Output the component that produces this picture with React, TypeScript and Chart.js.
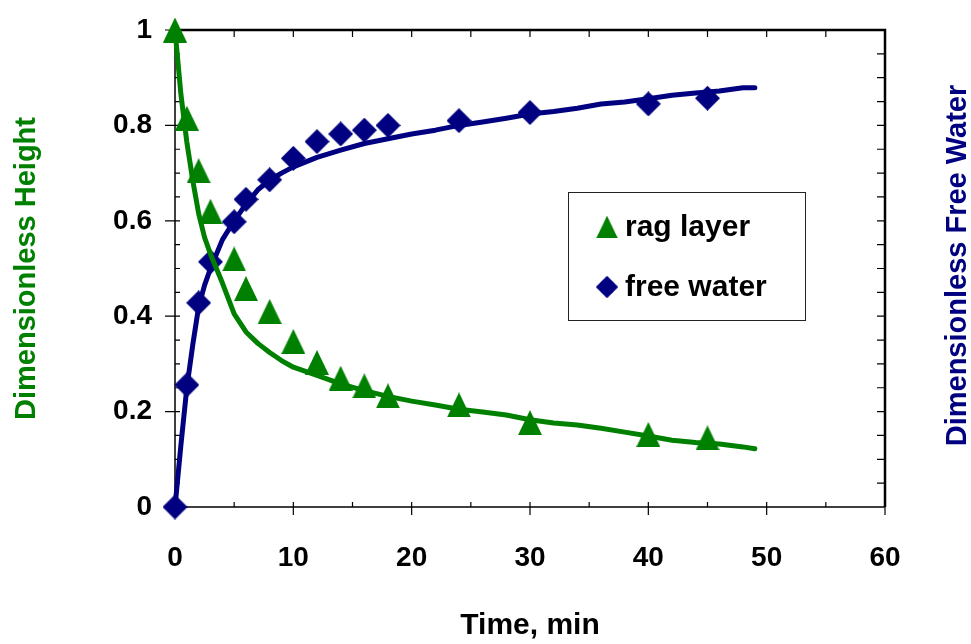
import React, { useEffect, useRef } from "react";
import { Chart, registerables } from "chart.js";

Chart.register(...registerables);

// ---- data ----
const ragTimes = [0, 1, 2, 3, 5, 6, 8, 10, 12, 14, 16, 18, 24, 30, 40, 45];
const ragLayer = [1.0, 0.815, 0.705, 0.62, 0.52, 0.458, 0.41, 0.347, 0.303, 0.27, 0.254, 0.233, 0.214, 0.177, 0.152, 0.145];

const waterTimes = [0, 1, 2, 3, 5, 6, 8, 10, 12, 14, 16, 18, 24, 30, 40, 45];
const freeWater = [0, 0.256, 0.428, 0.514, 0.598, 0.645, 0.686, 0.731, 0.766, 0.782, 0.79, 0.8, 0.81, 0.827, 0.845, 0.857];

const fitTimes = [0, 0.5, 1, 1.5, 2, 2.5, 3, 4, 5, 6, 7, 8, 9, 10, 12, 14, 16, 18, 20, 22, 24, 26, 28, 30, 32, 34, 36, 38, 40, 42, 44, 46, 48, 49];
const ragFit = [1.0, 0.865, 0.765, 0.685, 0.615, 0.565, 0.53, 0.47, 0.405, 0.367, 0.343, 0.324, 0.307, 0.293, 0.276, 0.258, 0.244, 0.232, 0.222, 0.214, 0.205, 0.199, 0.193, 0.183, 0.176, 0.172, 0.165, 0.157, 0.149, 0.14, 0.135, 0.132, 0.126, 0.122];
const waterFit = [0, 0.13, 0.25, 0.34, 0.42, 0.465, 0.5, 0.56, 0.6, 0.635, 0.665, 0.685, 0.7, 0.713, 0.733, 0.748, 0.762, 0.772, 0.782, 0.79, 0.8, 0.807, 0.815, 0.824, 0.829, 0.836, 0.845, 0.849, 0.856, 0.863, 0.868, 0.872, 0.879, 0.879];

const xTicks = [0, 10, 20, 30, 40, 50, 60];
const yTicks = [0, 0.2, 0.4, 0.6, 0.8, 1];

const GREEN = "#008000";
const NAVY = "#000080";
const FONT = 'Arial, "Liberation Sans", Helvetica, sans-serif';

function makeMarker(kind: "triangle" | "diamond", color: string): HTMLCanvasElement {
  const c = document.createElement("canvas");
  const w = kind === "triangle" ? 24 : 25;
  const h = 25;
  c.width = w;
  c.height = h;
  const g = c.getContext("2d")!;
  g.fillStyle = color;
  g.beginPath();
  if (kind === "triangle") {
    g.moveTo(w / 2, 0);
    g.lineTo(w, h);
    g.lineTo(0, h);
  } else {
    g.moveTo(w / 2, 0);
    g.lineTo(w, h / 2);
    g.lineTo(w / 2, h);
    g.lineTo(0, h / 2);
  }
  g.closePath();
  g.fill();
  return c;
}

export default function App() {
  const ref = useRef<HTMLCanvasElement>(null);

  useEffect(() => {
    document.body.style.margin = "0";
    const tri = makeMarker("triangle", GREEN);
    const dia = makeMarker("diamond", NAVY);

    const framePlugin = {
      id: "frameTicks",
      beforeDatasetsDraw(chart: any) {
        const { ctx, chartArea: a, scales } = chart;
        const xs = scales.x;
        const ys = scales.y;
        ctx.save();
        ctx.strokeStyle = "#000";
        ctx.lineWidth = 1.5;
        ctx.beginPath();
        ctx.moveTo(a.left, a.top);
        ctx.lineTo(a.left, a.bottom);
        ctx.lineTo(a.right, a.bottom);
        ctx.stroke();
        ctx.lineWidth = 2.5;
        ctx.beginPath();
        ctx.moveTo(a.left, a.top);
        ctx.lineTo(a.right, a.top);
        ctx.lineTo(a.right, a.bottom);
        ctx.stroke();
        ctx.lineWidth = 1.2;
        ctx.beginPath();
        for (let i = 0; i <= 20; i++) {
          const py = ys.getPixelForValue(i / 20);
          const major = i % 4 === 0;
          ctx.moveTo(a.left + 5, py);
          ctx.lineTo(major ? a.left - 10 : a.left, py);
          if (i > 0 && i < 20) {
            ctx.moveTo(a.right, py);
            ctx.lineTo(a.right - 8, py);
          }
        }
        for (let i = 0; i <= 12; i++) {
          const px = xs.getPixelForValue(i * 5);
          const major = i % 2 === 0;
          ctx.moveTo(px, a.bottom - 5);
          ctx.lineTo(px, major ? a.bottom + 8 : a.bottom);
          if (i > 0 && i < 12) {
            ctx.moveTo(px, a.top);
            ctx.lineTo(px, a.top + 7);
          }
        }
        ctx.stroke();
        ctx.restore();
      },
      afterDraw(chart: any) {
        const { ctx, chartArea: a } = chart;
        ctx.save();
        // right axis title (reads bottom to top)
        ctx.translate(958, (a.top + a.bottom) / 2 - 3);
        ctx.rotate(-Math.PI / 2);
        ctx.fillStyle = NAVY;
        ctx.font = `bold 29px ${FONT}`;
        ctx.textAlign = "center";
        ctx.textBaseline = "middle";
        ctx.fillText("Dimensionless Free Water", 0, 0);
        ctx.restore();

        // legend
        ctx.save();
        const bx = 568, by = 192, bw = 237, bh = 128;
        ctx.fillStyle = "#fff";
        ctx.fillRect(bx, by, bw, bh);
        ctx.strokeStyle = "#222";
        ctx.lineWidth = 1;
        ctx.strokeRect(bx + 0.5, by + 0.5, bw, bh);
        const items = chart.data.datasets.filter((d: any) => d.showLine === false);
        ctx.font = `bold 30px ${FONT}`;
        ctx.fillStyle = "#000";
        ctx.textAlign = "left";
        ctx.textBaseline = "middle";
        items.forEach((d: any, i: number) => {
          const cy = by + 35 + i * 60;
          const img = d.pointStyle as HTMLCanvasElement;
          const w = img.width * 0.9, h = img.height * 0.9;
          ctx.drawImage(img, 607 - w / 2, cy - h / 2, w, h);
          ctx.fillText(d.label, 625, cy + 1);
        });
        ctx.restore();
      },
    };

    const chart = new Chart(ref.current!, {
      type: "scatter",
      data: {
        datasets: [
          {
            label: "rag layer",
            data: ragTimes.map((t, i) => ({ x: t, y: ragLayer[i] })),
            showLine: false,
            pointStyle: tri as any,
            pointRadius: 12,
            yAxisID: "y",
            clip: false as any,
          },
          {
            label: "rag layer fit",
            data: fitTimes.map((t, i) => ({ x: t, y: ragFit[i] })),
            showLine: true,
            borderColor: GREEN,
            borderWidth: 5,
            borderCapStyle: "round",
            borderJoinStyle: "round",
            pointRadius: 0,
            tension: 0,
            yAxisID: "y",
            clip: false as any,
          },
          {
            label: "free water",
            data: waterTimes.map((t, i) => ({ x: t, y: freeWater[i] })),
            showLine: false,
            pointStyle: dia as any,
            pointRadius: 12,
            yAxisID: "y2",
            clip: false as any,
          },
          {
            label: "free water fit",
            data: fitTimes.map((t, i) => ({ x: t, y: waterFit[i] })),
            showLine: true,
            borderColor: NAVY,
            borderWidth: 5,
            borderCapStyle: "round",
            borderJoinStyle: "round",
            pointRadius: 0,
            tension: 0,
            yAxisID: "y2",
            clip: false as any,
          },
        ],
      },
      options: {
        responsive: false,
        animation: false,
        events: [],
        layout: { padding: { top: 30, left: 0, right: 0, bottom: 0 } },
        plugins: { legend: { display: false }, tooltip: { enabled: false } },
        scales: {
          x: {
            type: "linear",
            position: "bottom",
            min: 0,
            max: 60,
            afterBuildTicks: (s: any) => {
              s.ticks = xTicks.map((v) => ({ value: v }));
            },
            afterFit: (s: any) => {
              s.height = 137;
              s.paddingLeft = 0;
              s.paddingRight = 0;
            },
            grid: { display: false, drawTicks: false },
            border: { display: false },
            ticks: {
              color: "#000",
              padding: 34,
              maxRotation: 0,
              autoSkip: false,
              font: { family: FONT, size: 28, weight: "bold" },
            },
            title: {
              display: true,
              text: "Time, min",
              color: "#000",
              font: { family: FONT, size: 30, weight: "bold", lineHeight: 1.2 },
              padding: { top: 0, bottom: 0 },
            },
          },
          y: {
            type: "linear",
            position: "left",
            min: 0,
            max: 1,
            afterBuildTicks: (s: any) => {
              s.ticks = yTicks.map((v) => ({ value: v }));
            },
            afterFit: (s: any) => {
              s.width = 175;
              s.paddingTop = 0;
              s.paddingBottom = 0;
            },
            grid: { display: false, drawTicks: false },
            border: { display: false },
            ticks: {
              color: "#000",
              padding: 23,
              autoSkip: false,
              callback: (v: any) => String(v),
              font: { family: FONT, size: 28, weight: "bold" },
            },
            title: {
              display: true,
              text: "Dimensionless Height",
              color: GREEN,
              font: { family: FONT, size: 29, weight: "bold", lineHeight: 1.2 },
              padding: { top: 10, bottom: 0 },
            },
          },
          y2: {
            type: "linear",
            position: "right",
            min: 0,
            max: 1,
            afterFit: (s: any) => {
              s.width = 86;
              s.paddingTop = 0;
              s.paddingBottom = 0;
            },
            grid: { display: false, drawTicks: false },
            border: { display: false },
            ticks: { display: false },
          },
        },
      },
      plugins: [framePlugin],
    } as any);

    return () => chart.destroy();
  }, []);

  return (
    <div style={{ width: 971, height: 644 }}>
      <canvas ref={ref} width={971} height={644} style={{ display: "block" }} />
    </div>
  );
}
